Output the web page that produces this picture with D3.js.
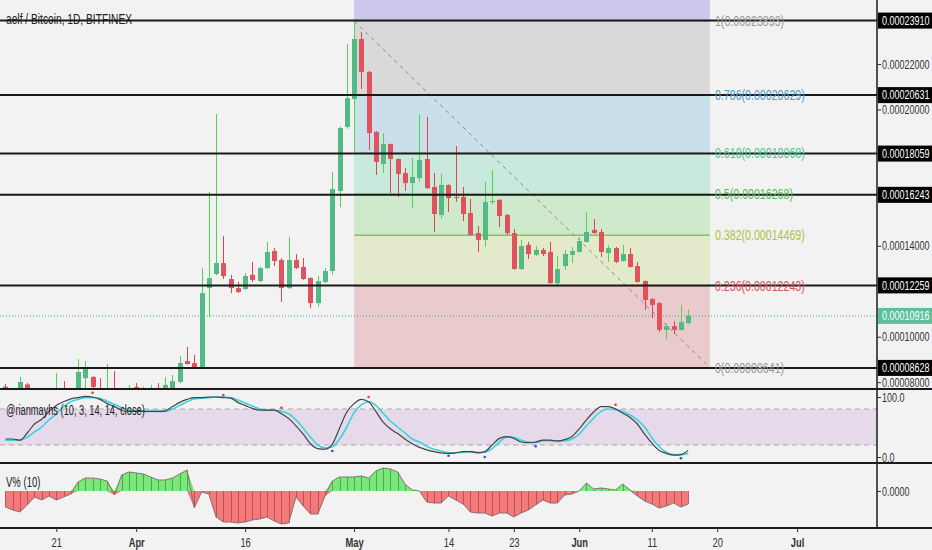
<!DOCTYPE html>
<html>
<head>
<meta charset="utf-8">
<script src="https://cdn.jsdelivr.net/npm/d3@7"></script>
<style>
  body { margin: 0; background: #f2f2f2; }
  svg { display: block; font-family: "Liberation Sans", Arial, sans-serif; }
</style>
</head>
<body>
<script>
// prices in satoshi (1e-8 BTC), one candle per day from Mar 14 2018
var firstDay = '2018-03-14';
var open = [7800,7500,7400,7900,7600,7550,7500,7560,7650,7550,7500,8180,8230,7750,7600,7700,7620,7640,
  7790,7700,7680,7750,7600,7650,8010,8930,8840,8670,12140,12760,13240,12540,12140,12100,12720,12450,13020,13770,13380,12140,13380,13070,12580,11480,12410,12890,16410,19230,
  20460,23100,21650,19010,17600,18480,17820,17200,16760,16980,17820,16590,15360,16680,16150,16150,15440,14560,14260,15950,16020,15360,14560,12980,14040,13600,13820,13730,12360,13110,13600,
  13730,14170,14700,14610,13680,13900,13330,13640,13110,12450,11660,11480,10300,10470,10300,10600];
var high = [7920,7600,8230,7960,7650,7620,7640,8400,8050,7680,9020,8930,8260,8180,8800,8490,7690,7880,
  7960,7800,7880,7960,8230,8320,9150,9550,9200,13020,16370,19800,14430,12720,12410,12800,13290,13080,14170,13900,13460,14390,13640,13460,12620,12670,13020,17250,19250,22880,
  23893,23410,21700,19050,18960,18500,17850,17420,17860,19800,19670,17200,17160,16700,18390,16590,16060,14870,16810,17340,16050,15400,14740,14260,14170,13990,13900,14170,13550,13820,13950,
  14390,15490,15180,14740,14040,13950,14040,13900,13290,12480,11700,11520,10600,10690,11400,11180];
var low = [7400,7300,7350,7500,7400,7350,7400,7450,7400,7450,7450,7600,7600,7500,7500,7500,7550,7550,
  7650,7650,7600,7620,7550,7600,7950,8780,8640,8640,10870,12700,12540,11920,11920,12050,12410,12400,12980,13110,11530,12100,12980,12500,11260,11310,12360,12720,15710,19150,
  18130,20900,18220,17120,17200,16320,16150,16410,15660,16810,16500,14610,15180,15490,15930,15090,14440,13730,13950,15840,14830,14480,12950,12940,13420,13560,13550,12330,12190,12940,13240,
  13700,14140,14520,13510,13290,13240,13300,13040,12380,11180,10820,10210,9900,10120,10260,10560];
var close = [7500,7450,8010,7600,7550,7500,7560,7650,7550,7600,8450,8580,7790,7650,7700,7620,7640,7690,
  7700,7740,7720,7680,7880,8050,8840,8800,8670,11920,12580,13240,12670,12140,11970,12670,12500,13020,13730,13330,12140,13380,13020,12540,11480,12450,12890,16500,19180,20500,
  23100,21650,18960,17690,18480,17820,17160,16760,17030,17780,16540,15400,16680,16100,16120,15400,14480,14260,15930,15970,15310,14560,12980,13990,13640,13820,13640,12360,12980,13640,13770,
  14210,14610,14560,13730,13900,13290,13640,13070,12410,11620,11400,10300,10470,10300,10650,10916];

// stochastic (%K dark, %D cyan), same days
var stochK = [30,30,28,40,55,63,76,86,92,97,99,101,100,96,89,84,78,76,
  76,76,76,76,77,84,91,96,99,99,100,100,99,98,91,86,81,78,78,78,72,64,52,38,22,14,13,21,48,75,
  89,96,92,76,58,47,39,30,22,16,12,9,7,6,7,9,9,7,9,20,31,34,31,25,24,25,28,28,27,29,34,
  47,62,75,84,84,80,73,66,55,38,23,11,6,3,4,11];
var stochD = [28,28,28,33,42,50,62,72,84,92,96,99,99,98,93,88,82,78,
  76,76,76,76,76,80,86,92,97,98,99,100,100,99,95,90,85,80,78,78,76,72,62,48,33,20,15,17,30,50,
  74,87,92,86,73,60,50,40,30,25,18,13,10,7,7,8,9,8,8,14,25,33,33,28,25,24,27,27,26,27,30,
  38,52,65,76,80,79,76,70,62,50,32,17,8,4,4,6];
var peakDots = [['2018-03-26',107],['2018-04-13',103],['2018-04-21',82],['2018-05-03',100],['2018-06-06',87]];
var troughDots = [['2018-04-28',10],['2018-05-14',2],['2018-05-19',0],['2018-05-26',18],['2018-06-15',-2]];

// V% (10)
var vpct = [-16,-19,-21,-14,-6,-9,-5,-9,-6,-3,9,13,13,12,10,-4,16,19,
  18,17,14,11,11,13,17,21,-17,-1,-3,-26,-31,-31,-32,-31,-29,-28,-26,-30,-33,-32,-6,-15,-23,-23,-5,10,14,14,
  14,15,13,20,23,22,19,7,1,0,-11,-12,-12,-5,-9,-13,-21,-22,-22,-25,-22,-22,-26,-22,-19,-14,-9,-12,-12,-4,-3,
  0,8,2,3,2,1,7,1,-5,-10,-13,-17,-15,-12,-16,-13];

var hLines = [23910, 20631, 18059, 16243, 12259, 8628];
var lastPrice = 10916;
var priceTicks = [8000, 10000, 14000, 20000, 22000];

var fibStart = '2018-05-01', fibEnd = '2018-06-19';
var fibLevels = [1.618, 1, 0.786, 0.618, 0.5, 0.382, 0.236, 0];
var fibPrices = [33317, 23893, 20629, 18068, 16268, 14469, 12243, 8641];
var fibFill = ['#cbc8eb', '#d9d9d9', '#c9dfe9', '#c8e9dc', '#cfe9cd', '#e3e9cb', '#e9cbcd'];
var fibText = ['#999', '#999', '#4a9dcf', '#45c98f', '#55bd55', '#a7c43c', '#e0505a', '#999'];

var timeTicks = ['2018-03-21','2018-04-01','2018-04-16','2018-05-01','2018-05-14','2018-05-23','2018-06-01','2018-06-11','2018-06-20','2018-07-01'];
var timeLabels = ['21','Apr','16','May','14','23','Jun','11','20','Jul'];

var width = 932, height = 550, plotRight = 877;
var main = {top: 0, bottom: 389};
var stoch = {top: 389, bottom: 463};
var vol = {top: 463, bottom: 528};
var narrow = 0.72; // the chart uses a condensed face; squeeze a normal one

var parse = d3.utcParse('%Y-%m-%d');
var day0 = parse(firstDay);
var dates = close.map(function(c, i) { return d3.utcDay.offset(day0, i); });
var data = dates.map(function(d, i) {
  return {date: d, o: open[i], h: high[i], l: low[i], c: close[i], k: stochK[i], dd: stochD[i], v: vpct[i]};
});

var apr1 = parse('2018-04-01');
var x = d3.scaleUtc()
  .domain([d3.utcHour.offset(apr1, -18.72 * 24), d3.utcHour.offset(apr1, 102 * 24)])
  .range([0, plotRight]);
var y = d3.scaleLinear().domain([7700, 24816]).range([main.bottom, main.top]);
var ys = d3.scaleLinear().domain([0, 100]).range([457, 397]);
var yv = d3.scaleLinear().domain([-37, 28]).range([vol.bottom, vol.top]);
var fmt = function(v) { return (v / 1e8).toFixed(8); };

var svg = d3.select('body').append('svg').attr('width', width).attr('height', height);
svg.append('rect').attr('width', width).attr('height', height).attr('fill', '#f2f2f2');

function label(parent, px, py, str, size, color, sx) {
  return parent.append('text')
    .attr('transform', 'translate(' + px + ',' + py + ') scale(' + (sx || narrow) + ',1)')
    .attr('font-size', size).attr('fill', color).text(str);
}

var defs = svg.append('defs');
[['clipMain', main], ['clipStoch', stoch], ['clipVol', vol]].forEach(function(c) {
  defs.append('clipPath').attr('id', c[0]).append('rect')
    .attr('x', 0).attr('y', c[1].top).attr('width', plotRight).attr('height', c[1].bottom - c[1].top);
});

// ---- main pane ----
var gm = svg.append('g').attr('clip-path', 'url(#clipMain)');
var fx0 = x(parse(fibStart)), fx1 = x(parse(fibEnd));
fibFill.forEach(function(col, i) {
  gm.append('rect').attr('x', fx0).attr('width', fx1 - fx0)
    .attr('y', y(fibPrices[i])).attr('height', y(fibPrices[i + 1]) - y(fibPrices[i]))
    .attr('fill', col);
});
fibPrices.slice(1).forEach(function(p, i) {
  gm.append('line').attr('x1', fx0).attr('x2', fx1).attr('y1', y(p)).attr('y2', y(p))
    .attr('stroke', i == 4 ? '#8bc34a' : fibText[i + 1]).attr('stroke-width', i == 4 ? 1.5 : 1);
});
gm.append('line')
  .attr('x1', fx0).attr('y1', y(fibPrices[1])).attr('x2', fx1).attr('y2', y(fibPrices[7]))
  .attr('stroke', '#8a8a8a').attr('stroke-dasharray', '4,4');

gm.append('line').attr('x1', 0).attr('x2', plotRight).attr('y1', y(lastPrice)).attr('y2', y(lastPrice))
  .attr('stroke', '#3aa99a').attr('stroke-dasharray', '1,2');

var candle = gm.selectAll('.candle').data(data).enter().append('g').attr('class', 'candle');
candle.append('line')
  .attr('x1', function(d) { return Math.round(x(d.date)) + 0.5; })
  .attr('x2', function(d) { return Math.round(x(d.date)) + 0.5; })
  .attr('y1', function(d) { return y(d.h); })
  .attr('y2', function(d) { return y(d.l); })
  .attr('stroke', function(d) { return d.c >= d.o ? '#4cd84c' : '#e8414d'; });
candle.append('rect')
  .attr('x', function(d) { return Math.round(x(d.date)) - 2; })
  .attr('width', 5)
  .attr('y', function(d) { return y(Math.max(d.o, d.c)); })
  .attr('height', function(d) { return Math.max(1, Math.abs(y(d.o) - y(d.c))); })
  .attr('fill', function(d) { return d.c >= d.o ? '#53b987' : '#e0525c'; });

label(svg, 6, 24, 'aelf / Bitcoin, 1D, BITFINEX', 14, '#222', 0.73);

hLines.forEach(function(p) {
  svg.append('line').attr('x1', 0).attr('x2', plotRight).attr('y1', y(p)).attr('y2', y(p))
    .attr('stroke', '#1a1a1a').attr('stroke-width', 2);
});

fibPrices.slice(1).forEach(function(p, i) {
  label(svg, fx1 + 5, y(p), fibLevels[i + 1] + '(' + fmt(p) + ')', 14, fibText[i + 1], 0.76)
    .attr('dy', '0.35em');
});

// ---- stochastic pane ----
var gs = svg.append('g').attr('clip-path', 'url(#clipStoch)');
gs.append('rect').attr('x', 0).attr('width', plotRight)
  .attr('y', ys(80)).attr('height', ys(20) - ys(80)).attr('fill', '#e6d9ea');
[80, 20].forEach(function(v) {
  gs.append('line').attr('x1', 0).attr('x2', plotRight).attr('y1', ys(v)).attr('y2', ys(v))
    .attr('stroke', '#aaa').attr('stroke-dasharray', '5,4');
});
gs.append('path').datum(data)
  .attr('fill', 'none').attr('stroke', '#3ad3df').attr('stroke-width', 1.6)
  .attr('d', d3.line().curve(d3.curveMonotoneX)
    .x(function(d) { return x(d.date); }).y(function(d) { return ys(d.dd); }));
gs.append('path').datum(data)
  .attr('fill', 'none').attr('stroke', '#444').attr('stroke-width', 1.2)
  .attr('d', d3.line().curve(d3.curveMonotoneX)
    .x(function(d) { return x(d.date); }).y(function(d) { return ys(d.k); }));
gs.selectAll('.pk').data(peakDots).enter().append('circle')
  .attr('cx', function(d) { return x(parse(d[0])); }).attr('cy', function(d) { return ys(d[1]); })
  .attr('r', 1.3).attr('fill', '#e53935');
gs.selectAll('.tr').data(troughDots).enter().append('circle')
  .attr('cx', function(d) { return x(parse(d[0])); }).attr('cy', function(d) { return ys(d[1]); })
  .attr('r', 1.3).attr('fill', '#3949e5');
label(svg, 6, 415, '@rianmayhs (10, 3, 14, 14, close)', 14, '#222', 0.66);

// ---- V% pane ----
var gv = svg.append('g').attr('clip-path', 'url(#clipVol)');
gv.append('path').datum(data).attr('fill', '#7ce87c')
  .attr('d', d3.area().x(function(d) { return x(d.date); })
    .y0(yv(0)).y1(function(d) { return yv(Math.max(0, d.v)); }));
gv.append('path').datum(data).attr('fill', '#f27a7a')
  .attr('d', d3.area().x(function(d) { return x(d.date); })
    .y0(yv(0)).y1(function(d) { return yv(Math.min(0, d.v)); }));
gv.selectAll('.vbar').data(data).enter().append('line')
  .attr('x1', function(d) { return Math.round(x(d.date)) + 0.5; })
  .attr('x2', function(d) { return Math.round(x(d.date)) + 0.5; })
  .attr('y1', yv(0)).attr('y2', function(d) { return yv(d.v); })
  .attr('stroke', function(d) { return d.v >= 0 ? '#3c9a3c' : '#b04848'; }).attr('stroke-width', 0.8);
gv.append('path').datum(data)
  .attr('fill', 'none').attr('stroke', '#8a7070').attr('stroke-width', 1)
  .attr('d', d3.line().x(function(d) { return x(d.date); }).y(function(d) { return yv(d.v); }));
label(svg, 6, 487, 'V% (10)', 14, '#222', 0.68);

// ---- borders ----
[main.bottom, stoch.bottom, vol.bottom].forEach(function(yy) {
  svg.append('line').attr('x1', 0).attr('x2', width).attr('y1', yy).attr('y2', yy)
    .attr('stroke', '#1a1a1a').attr('stroke-width', 2);
});
svg.append('line').attr('x1', plotRight).attr('x2', plotRight).attr('y1', 0).attr('y2', vol.bottom)
  .attr('stroke', '#1a1a1a').attr('stroke-width', 1.5);

// ---- right axes ----
function styleAxis(g) {
  g.select('.domain').remove();
  g.selectAll('line').attr('stroke', '#333');
  g.selectAll('text').attr('x', null).attr('font-size', 12.5).attr('fill', '#333')
    .attr('transform', 'translate(5,0) scale(' + narrow + ',1)');
}
svg.append('g').attr('transform', 'translate(' + plotRight + ',0)')
  .call(d3.axisRight(y).tickValues(priceTicks).tickSize(4).tickFormat(fmt))
  .call(styleAxis);
svg.append('g').attr('transform', 'translate(' + plotRight + ',0)')
  .call(d3.axisRight(ys).tickValues([0, 100]).tickSize(4).tickFormat(d3.format('.1f')))
  .call(styleAxis);
svg.append('g').attr('transform', 'translate(' + plotRight + ',0)')
  .call(d3.axisRight(yv).tickValues([0]).tickSize(4).tickFormat(d3.format('.4f')))
  .call(styleAxis);

function priceTag(p, bg) {
  var g = svg.append('g').attr('transform', 'translate(' + plotRight + ',' + y(p) + ')');
  g.append('rect').attr('x', 1).attr('y', -8).attr('width', width - plotRight).attr('height', 16).attr('fill', bg);
  label(g, 5, 0, fmt(p), 12.5, '#fff').attr('dy', '0.35em');
}
hLines.forEach(function(p) { priceTag(p, '#000'); });
priceTag(lastPrice, '#5dbf9c');

// ---- time axis ----
var ta = svg.append('g').attr('transform', 'translate(0,' + vol.bottom + ')')
  .call(d3.axisBottom(x).tickValues(timeTicks.map(parse)).tickSize(4).tickPadding(6)
    .tickFormat(function(d, i) { return timeLabels[i]; }));
ta.select('.domain').remove();
ta.selectAll('line').attr('stroke', '#333');
ta.selectAll('text').attr('font-size', 13).attr('fill', '#333')
  .attr('transform', 'scale(' + narrow + ',1)')
  .attr('x', function(d) { return x(d) * 0 ; })
  .attr('font-weight', function(d, i) { return isNaN(+timeLabels[i]) ? 'bold' : 'normal'; });
</script>
</body>
</html>
